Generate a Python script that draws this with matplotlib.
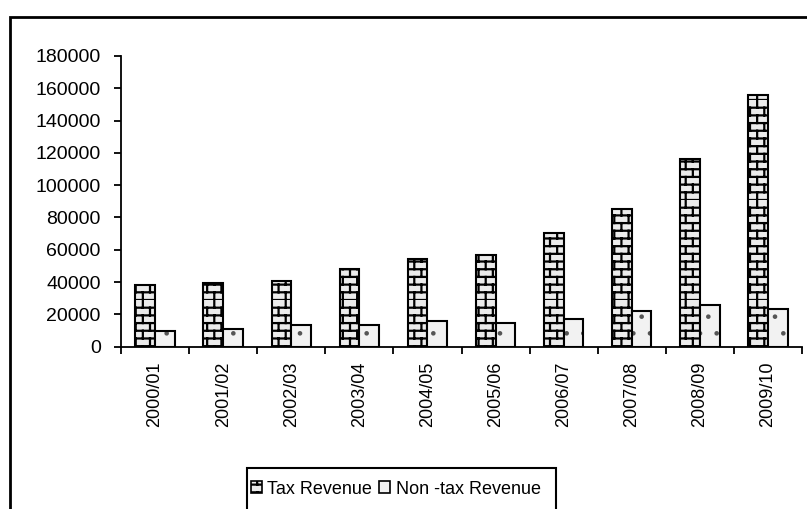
import warnings
import numpy as np
import matplotlib
matplotlib.use("Agg")
import matplotlib.pyplot as plt
import matplotlib.hatch as mhatch
from matplotlib.path import Path
from matplotlib.patches import Rectangle

warnings.filterwarnings("ignore")

years = ["2000/01", "2001/02", "2002/03", "2003/04", "2004/05",
         "2005/06", "2006/07", "2007/08", "2008/09", "2009/10"]
tax_revenue = [38200, 39400, 40900, 47900, 54300, 56800, 70200, 85300, 116200, 155800]
non_tax_revenue = [9700, 11150, 13400, 13400, 16100, 14700, 17150, 22300, 25800, 23150]
y_ticks = [0, 20000, 40000, 60000, 80000, 100000, 120000, 140000, 160000, 180000]


class BrickHatch(mhatch.HatchPatternBase):
    """Running-bond brick pattern, selected with the 'b' hatch character."""
    rows = 13
    cols = 7

    def __init__(self, hatch, density):
        if hatch.count("b") > 0:
            self.num_lines = self.rows + self.rows * self.cols
        else:
            self.num_lines = 0
        self.num_vertices = self.num_lines * 2

    def set_vertices_and_codes(self, vertices, codes):
        h = 1.0 / self.rows
        w = 1.0 / self.cols
        segs = []
        for r in range(self.rows):
            y = r * h
            segs.append(((0.0, y), (1.0, y)))
            off = 0.0 if r % 2 == 0 else w / 2
            for c in range(self.cols):
                x = off + c * w
                segs.append(((x, y), (x, y + h)))
        vertices[:] = np.array(segs, dtype=float).reshape(-1, 2)
        codes[0::2] = Path.MOVETO
        codes[1::2] = Path.LINETO


class FineDots(mhatch.Circles):
    """Sparse, very small filled dots, selected with the 'd' hatch character."""
    size = 0.07
    filled = True

    def __init__(self, hatch, density):
        self.num_rows = hatch.count("d") * density
        super().__init__(hatch, density)


mhatch._hatch_types.extend([BrickHatch, FineDots])

plt.rcParams["font.family"] = ["Liberation Sans", "DejaVu Sans"]
plt.rcParams["font.size"] = 13
plt.rcParams["hatch.linewidth"] = 1.6

fig = plt.figure(figsize=(8.07, 5.09), dpi=100)
fig.patch.set_facecolor("white")

# outer chart-area border (continues past the right and bottom edges)
fig.patches.append(Rectangle((10 / 807, -0.2), 1.2, 1.2 - 17 / 509,
                             transform=fig.transFigure, fill=False,
                             edgecolor="black", linewidth=2.0, zorder=0))

ax = fig.add_axes([121 / 807, 1 - 346.7 / 509, (802 - 121) / 807, (346.7 - 56) / 509])

x = np.arange(len(years)) + 0.5
bw = 0.29
ax.bar(x - bw / 2, tax_revenue, width=bw, facecolor="#ebebeb", edgecolor="black",
       linewidth=1.5, hatch="b", label="Tax Revenue", zorder=2)
# non-tax bars: grey dotted fill, then the black outline on top
ax.bar(x + bw / 2, non_tax_revenue, width=bw, facecolor="#f2f2f2", edgecolor="#555555",
       linewidth=0, hatch="d", zorder=2)
ax.bar(x + bw / 2, non_tax_revenue, width=bw, facecolor="none", edgecolor="black",
       linewidth=1.5, zorder=3)

ax.set_xlim(0, len(years))
ax.set_ylim(0, 180000)
ax.set_yticks(y_ticks)
ax.set_yticklabels([str(v) for v in y_ticks], fontsize=14)
ax.set_xticks(np.arange(len(years) + 1))
ax.set_xticklabels([])
ax.set_xticks(x, minor=True)
ax.set_xticklabels(years, minor=True, rotation=90, va="top", ha="center")

ax.tick_params(axis="y", direction="out", length=5, width=1.3, pad=9.5, colors="black")
ax.tick_params(axis="x", which="major", direction="out", length=5, width=1.3)
ax.tick_params(axis="x", which="minor", length=0, pad=11)

for side in ("top", "right"):
    ax.spines[side].set_visible(False)
for side in ("left", "bottom"):
    ax.spines[side].set_linewidth(1.3)
    ax.spines[side].set_color("black")

# legend box: tall frame that runs past the bottom edge of the chart area
fig.patches.append(Rectangle((247 / 807, -0.1), (556 - 247) / 807, 0.1 + 1 - 468 / 509,
                             transform=fig.transFigure, facecolor="white",
                             edgecolor="black", linewidth=1.5, zorder=1))

tax_handle = Rectangle((0, 0), 1, 1, facecolor="#ebebeb", edgecolor="black",
                       linewidth=1.2, hatch="b")
non_tax_handle = Rectangle((0, 0), 1, 1, facecolor="#f2f2f2", edgecolor="black",
                           linewidth=1.2)
leg = fig.legend([tax_handle, non_tax_handle], ["Tax Revenue", "Non -tax Revenue"],
                 loc="center left", bbox_to_anchor=(251 / 807, 1 - 489 / 509),
                 bbox_transform=fig.transFigure, ncol=2, frameon=False,
                 fontsize=13, handlelength=0.6, handleheight=0.6,
                 handletextpad=0.3, columnspacing=0.4, borderpad=0, borderaxespad=0)

fig.savefig("out.png", dpi=100, facecolor="white")
